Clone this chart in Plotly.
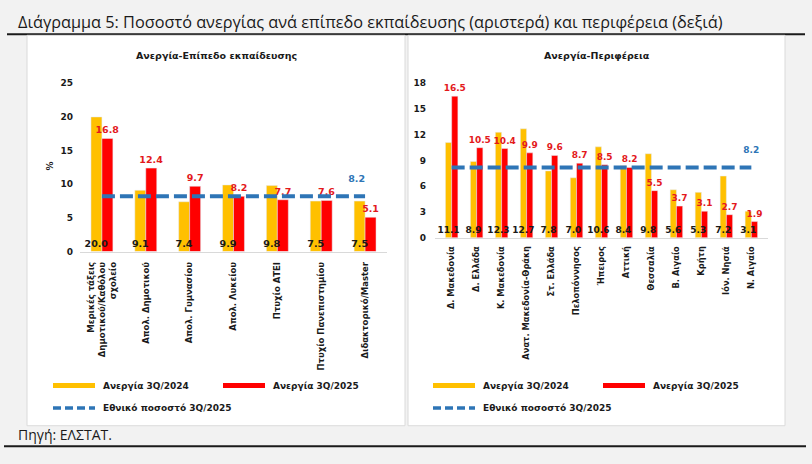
import plotly.graph_objects as go

W, H = 812, 464

# ---------------- data ----------------
edu_categories = [
    "Μερικές τάξεις<br>Δημοτικού/Καθόλου<br>σχολείο",
    "Απολ. Δημοτικού",
    "Απολ. Γυμνασίου",
    "Απολ. Λυκείου",
    "Πτυχίο ΑΤΕΙ",
    "Πτυχίο Πανεπιστημίου",
    "Διδακτορικό/Master",
]
edu_2024 = [20.0, 9.1, 7.4, 9.9, 9.8, 7.5, 7.5]
edu_2025 = [16.8, 12.4, 9.7, 8.2, 7.7, 7.6, 5.1]

reg_categories = [
    "Δ. Μακεδονία", "Δ. Ελλάδα", "Κ. Μακεδονία", "Ανατ. Μακεδονία-Θράκη",
    "Στ. Ελλάδα", "Πελοπόννησος", "Ήπειρος", "Αττική", "Θεσσαλία",
    "Β. Αιγαίο", "Κρήτη", "Ιόν. Νησιά", "Ν. Αιγαίο",
]
reg_2024 = [11.1, 8.9, 12.3, 12.7, 7.8, 7.0, 10.6, 8.4, 9.8, 5.6, 5.3, 7.2, 3.1]
reg_2025 = [16.5, 10.5, 10.4, 9.9, 9.6, 8.7, 8.5, 8.2, 5.5, 3.7, 3.1, 2.7, 1.9]

national_2025 = 8.2

left_yticks = [0, 5, 10, 15, 20, 25]
right_yticks = [0, 3, 6, 9, 12, 15, 18]

name_2024 = "Ανεργία 3Q/2024"
name_2025 = "Ανεργία 3Q/2025"
name_nat = "Εθνικό ποσοστό 3Q/2025"

# ---------------- styles ----------------
YELLOW = "#FFC000"
RED = "#FF0000"
RED_TXT = "#E3191C"
BLUE = "#2E75B6"
TFONT = "Open Sans"
FONT = "DejaVu Sans"
INK = "#1a1a1a"


def px(x):
    return x / W


def py(y):
    return 1 - y / H


fig = go.Figure()


def add_panel(cats, v24, v25, xa, ya, nat_pos, fs):
    n = len(cats)
    fig.add_trace(go.Bar(
        x=cats, y=v24, name=name_2024, marker_color=YELLOW,
        xaxis=xa, yaxis=ya, showlegend=False, offsetgroup="a",
        hoverinfo="skip",
    ))
    fig.add_trace(go.Bar(
        x=cats, y=v25, name=name_2025, marker_color=RED,
        xaxis=xa, yaxis=ya, showlegend=False, offsetgroup="b",
        text=[f"{v:.1f}" for v in v25], texttemplate="<b>%{text}</b>",
        textposition="outside", textangle=0, constraintext="none",
        cliponaxis=False,
        textfont=dict(color=RED_TXT, size=fs, family=FONT),
        hoverinfo="skip",
    ))
    # labels of the 2024 bars, drawn on top of the 2025 bars
    fig.add_trace(go.Bar(
        x=cats, y=v24, name=name_2024 + " (τιμές)",
        marker=dict(color="rgba(0,0,0,0)", line=dict(width=0)),
        xaxis=xa, yaxis=ya, showlegend=False, offsetgroup="a",
        text=[f"{v:.1f}" for v in v24], texttemplate="<b>%{text}</b>",
        textposition="inside", insidetextanchor="start", textangle=0,
        constraintext="none",
        textfont=dict(color=INK, size=fs, family=FONT),
        hoverinfo="skip",
    ))
    fig.add_trace(go.Scatter(
        x=cats, y=[national_2025] * n, name=name_nat, mode="lines+text",
        xaxis=xa, yaxis=ya, showlegend=False,
        line=dict(color=BLUE, width=4, dash="13px,5px"),
        text=[""] * (n - 1) + [f"<b>{national_2025}</b><br>&nbsp;"],
        textposition=nat_pos, cliponaxis=False,
        textfont=dict(color=BLUE, size=fs, family=FONT),
        hoverinfo="skip",
    ))


add_panel(edu_categories, edu_2024, edu_2025, "x", "y", "top left", 9.5)
add_panel(reg_categories, reg_2024, reg_2025, "x2", "y2", "top center", 9)

fig.update_layout(
    width=W, height=H,
    margin=dict(l=0, r=0, t=0, b=0),
    paper_bgcolor="#F2F2F2",
    plot_bgcolor="rgba(0,0,0,0)",
    barmode="group", bargap=0.5, bargroupgap=0,
    showlegend=False,
    font=dict(family=FONT, color=INK),
    xaxis=dict(
        domain=[px(80), px(387)], anchor="y", showgrid=False, zeroline=False,
        showline=True, linecolor="#D9D9D9", linewidth=1,
        tickangle=-90, ticks="", tickfont=dict(family=FONT, size=8.5, color=INK, weight="bold"),
        ticklabelstandoff=6,
    ),
    yaxis=dict(
        domain=[py(252), py(80)], anchor="x", range=[0, 25], tickvals=left_yticks,
        showgrid=False, zeroline=False, showline=False, ticks="",
        tickfont=dict(family=FONT, size=9, color=INK, weight="bold"),
        ticklabelstandoff=6,
    ),
    xaxis2=dict(
        domain=[px(435), px(768)], anchor="y2", showgrid=False, zeroline=False,
        showline=True, linecolor="#D9D9D9", linewidth=1,
        tickangle=-90, ticks="", tickfont=dict(family=FONT, size=8.3, color=INK, weight="bold"),
        ticklabelstandoff=4,
    ),
    yaxis2=dict(
        domain=[py(238), py(80)], anchor="x2", range=[0, 18], tickvals=right_yticks,
        showgrid=False, zeroline=False, showline=False, ticks="",
        tickfont=dict(family=FONT, size=9, color=INK, weight="bold"),
        ticklabelstandoff=8,
    ),
)

shapes = []
# top & bottom rules
shapes.append(dict(type="line", xref="paper", yref="paper", x0=px(7), x1=px(805),
                   y0=py(30), y1=py(30), line=dict(color=INK, width=2), layer="below"))
shapes.append(dict(type="line", xref="paper", yref="paper", x0=px(4), x1=px(806),
                   y0=py(451), y1=py(451), line=dict(color=INK, width=2), layer="below"))
# panels
for (a, b) in [(27, 405), (408, 785)]:
    shapes.append(dict(type="rect", xref="paper", yref="paper", x0=px(a), x1=px(b),
                       y0=py(430), y1=py(31), fillcolor="white",
                       line=dict(color="#DADADA", width=1), layer="below"))

annotations = []
annotations.append(dict(
    text="Διάγραμμα 5: Ποσοστό ανεργίας ανά επίπεδο εκπαίδευσης (αριστερά) και περιφέρεια (δεξιά)",
    xref="paper", yref="paper", x=px(16), y=py(17), xanchor="left", yanchor="middle",
    showarrow=False, font=dict(family=TFONT, size=16.3, color=INK)))
annotations.append(dict(
    text="Πηγή: ΕΛΣΤΑΤ.", xref="paper", yref="paper", x=px(16), y=py(439),
    xanchor="left", yanchor="middle", showarrow=False,
    font=dict(family=TFONT, size=14, color=INK)))
annotations.append(dict(
    text="<b>Ανεργία-Επίπεδο εκπαίδευσης</b>", xref="paper", yref="paper",
    x=px(216), y=py(52), xanchor="center", yanchor="middle", showarrow=False,
    font=dict(family=FONT, size=9.5, color=INK)))
annotations.append(dict(
    text="<b>Ανεργία-Περιφέρεια</b>", xref="paper", yref="paper",
    x=px(597), y=py(52), xanchor="center", yanchor="middle", showarrow=False,
    font=dict(family=FONT, size=9.5, color=INK)))
annotations.append(dict(
    text="<b>%</b>", xref="paper", yref="paper", x=px(50), y=py(165),
    xanchor="center", yanchor="middle", showarrow=False, textangle=-90,
    font=dict(family=FONT, size=9, color=INK)))

# legends (manual, per panel)
for x0 in (53, 433):
    items = [
        (x0, 389, YELLOW, "solid", name_2024),
        (x0 + 170, 389, RED, "solid", name_2025),
        (x0, 412, BLUE, "dash", name_nat),
    ]
    for (lx, ly, col, dsh, label) in items:
        shapes.append(dict(type="line", xref="paper", yref="paper", x0=px(lx), x1=px(lx + 42),
                           y0=py(ly), y1=py(ly),
                           line=dict(color=col, width=5 if dsh == "solid" else 3.5,
                                     dash="solid" if dsh == "solid" else "8px,4px")))
        annotations.append(dict(
            text=f"<b>{label}</b>", xref="paper", yref="paper", x=px(lx + 48), y=py(ly),
            xanchor="left", yanchor="middle", showarrow=False,
            font=dict(family=FONT, size=9, color=INK)))

fig.update_layout(shapes=shapes, annotations=annotations)

fig.write_html("out.html")
